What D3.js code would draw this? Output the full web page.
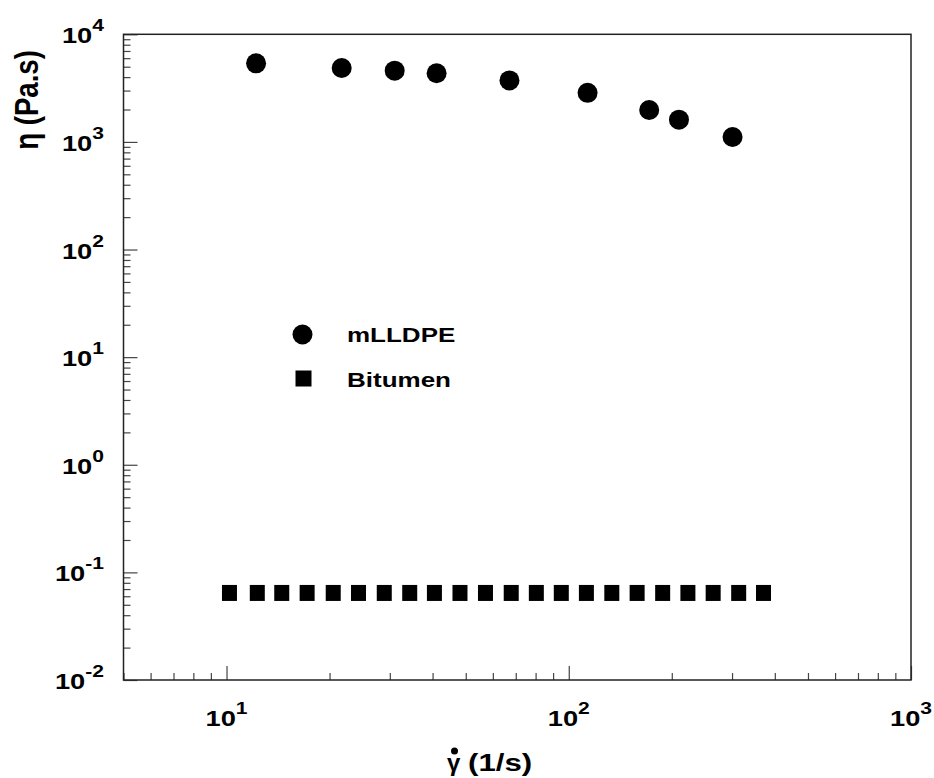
<!DOCTYPE html>
<html>
<head>
<meta charset="utf-8">
<script src="https://cdn.jsdelivr.net/npm/d3@7"></script>
<style>
  body { margin: 0; background: #fff; }
  text { font-family: Arial, "Liberation Sans", sans-serif; font-weight: bold; fill: #000; }
</style>
</head>
<body>
<script>
// shear rate (1/s) and viscosity (Pa.s)
const mlldpeRate = [12.2, 21.7, 31.0, 41.1, 67.1, 113.5, 171.8, 209.9, 301];
const mlldpeEta = [5370, 4860, 4590, 4350, 3730, 2860, 1980, 1610, 1110];
const bitumenRate = [10.2, 12.3, 14.5, 17.2, 20.5, 24.3, 28.9, 34.3, 40.5, 48.1, 57.1,
	67.9, 80.4, 95.1, 112.6, 133.6, 158.4, 188.1, 222.9, 264.2, 313.7, 370.7];
const bitumenEta = [0.0644, 0.0644, 0.0644, 0.0644, 0.0644, 0.0644, 0.0644, 0.0644, 0.0644, 0.0644, 0.0644,
	0.0644, 0.0644, 0.0644, 0.0644, 0.0644, 0.0644, 0.0644, 0.0644, 0.0644, 0.0644, 0.0644];
const xTickExps = [1, 2, 3];
const yTickExps = [-2, -1, 0, 1, 2, 3, 4];
const legendNames = ["mLLDPE", "Bitumen"];

function init(){
	const W = 934, H = 778;
	const left = 123.5, right = 911, top = 34.3, bottom = 680;
	const sx = 1.24; // the original lettering is a bit wide

	const svg = d3.select("body").append("svg")
		.attr("width", W)
		.attr("height", H);

	const x = d3.scaleLog().domain([5, 1000]).range([left, right]);
	const y = d3.scaleLog().domain([0.01, 10000]).range([bottom, top]);

	// minor / major tick values
	const xMinor = x.ticks().filter(v => Math.abs(Math.log10(v) % 1) > 1e-6);
	const xMajor = xTickExps.map(e => Math.pow(10, e));
	const yMinor = y.ticks().filter(v => Math.abs(Math.log10(v) % 1) > 1e-6);
	const yMajor = yTickExps.map(e => Math.pow(10, e));

	const tickColor = "#444";

	const gx1 = svg.append("g").attr("transform", `translate(0,${bottom})`)
		.call(d3.axisBottom(x).tickValues(xMinor).tickSize(-7).tickFormat(""));
	const gx2 = svg.append("g").attr("transform", `translate(0,${bottom})`)
		.call(d3.axisBottom(x).tickValues(xMajor).tickSize(-14).tickFormat(""));
	const gy1 = svg.append("g").attr("transform", `translate(${left},0)`)
		.call(d3.axisLeft(y).tickValues(yMinor).tickSize(-7).tickFormat(""));
	const gy2 = svg.append("g").attr("transform", `translate(${left},0)`)
		.call(d3.axisLeft(y).tickValues(yMajor).tickSize(-14).tickFormat(""));
	[gx1, gx2, gy1, gy2].forEach(g => {
		g.select(".domain").remove();
		g.selectAll(".tick line").attr("stroke", tickColor).attr("stroke-width", 1.2);
	});

	// frame
	svg.append("rect")
		.attr("x", left)
		.attr("y", top)
		.attr("width", right - left)
		.attr("height", bottom - top)
		.attr("fill", "none")
		.attr("stroke", "#222")
		.attr("stroke-width", 1.5);

	// power-of-ten label
	function powLabel(px, py, e, anchor){
		const t = svg.append("text")
			.attr("transform", `translate(${px},${py}) scale(${sx},1)`)
			.attr("text-anchor", anchor)
			.attr("font-size", "22px");
		t.append("tspan").text("10");
		t.append("tspan").attr("dy", -12).attr("font-size", "17px").text(e);
	}
	xTickExps.forEach(e => powLabel(x(Math.pow(10, e)), 726, e, "middle"));
	yTickExps.forEach(e => powLabel(104, y(Math.pow(10, e)) + 9, e, "end"));

	// data
	svg.append("g").selectAll("circle")
		.data(mlldpeRate)
		.join("circle")
		.attr("cx", d => x(d))
		.attr("cy", (d, i) => y(mlldpeEta[i]))
		.attr("r", 10)
		.attr("fill", "#000");

	const sq = 15;
	svg.append("g").selectAll("rect")
		.data(bitumenRate)
		.join("rect")
		.attr("x", d => x(d) - sq / 2)
		.attr("y", (d, i) => y(bitumenEta[i]) - 8)
		.attr("width", sq)
		.attr("height", 16)
		.attr("fill", "#000");

	// legend
	svg.append("circle")
		.attr("cx", 302.5)
		.attr("cy", 334.5)
		.attr("r", 10)
		.attr("fill", "#000");
	svg.append("rect")
		.attr("x", 295.5)
		.attr("y", 370.5)
		.attr("width", 16)
		.attr("height", 16)
		.attr("fill", "#000");
	svg.append("text")
		.attr("transform", `translate(347,342) scale(1.3,1)`)
		.attr("font-size", "20px")
		.text(legendNames[0]);
	svg.append("text")
		.attr("transform", `translate(347,387) scale(1.3,1)`)
		.attr("font-size", "20px")
		.text(legendNames[1]);

	// axis titles
	svg.append("text")
		.attr("transform", "translate(38,100) rotate(-90) scale(1.15,1.35)")
		.attr("text-anchor", "middle")
		.attr("font-size", "24px")
		.text("η (Pa.s)");

	svg.append("text")
		.attr("x", 447)
		.attr("y", 771)
		.attr("font-size", "24px")
		.attr("font-weight", "normal")
		.text("γ");
	svg.append("circle")
		.attr("cx", 454.5)
		.attr("cy", 751)
		.attr("r", 3.5)
		.attr("fill", "#000");
	svg.append("text")
		.attr("transform", `translate(468,771) scale(1.3,1)`)
		.attr("font-size", "24px")
		.text("(1/s)");
}
init();
</script>
</body>
</html>
